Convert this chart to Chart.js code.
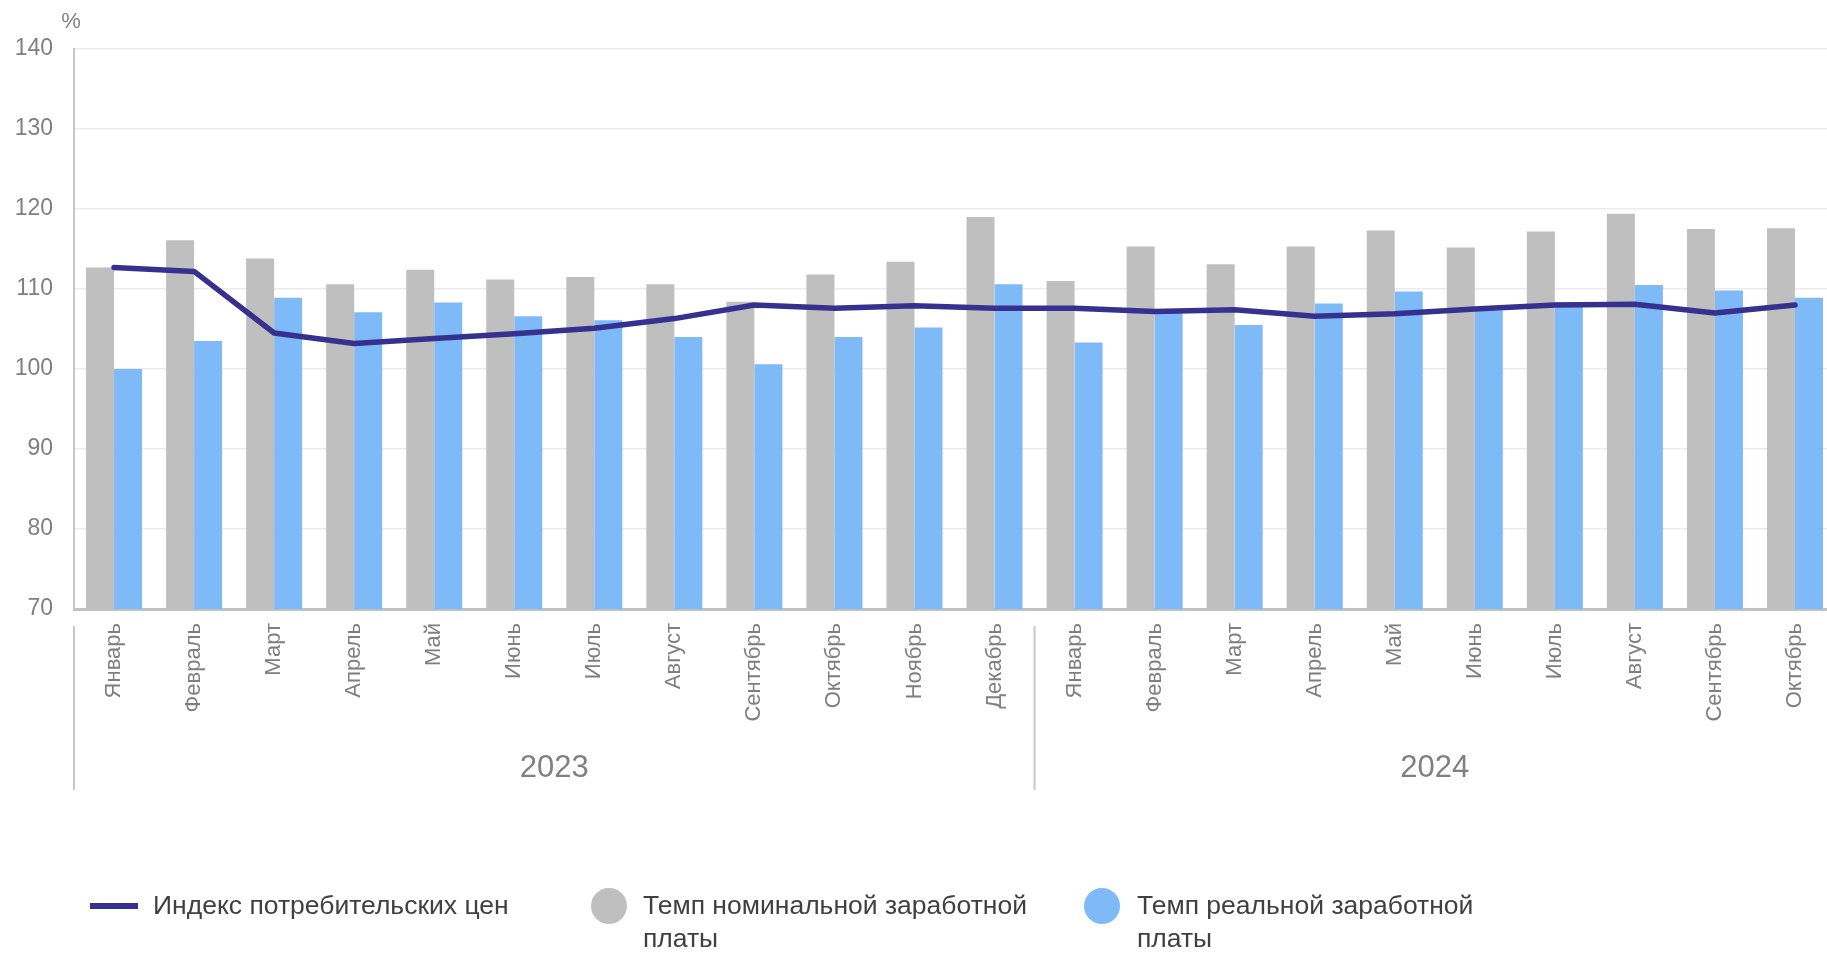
<!DOCTYPE html>
<html>
<head>
<meta charset="utf-8">
<script src="https://cdn.jsdelivr.net/npm/chart.js@4"></script>
<style>
  html, body { margin: 0; padding: 0; background: #fff; overflow: hidden; }
  #wrap { position: relative; width: 1840px; height: 953px; }
  #legend { position: absolute; left: 0; top: 0; width: 1827px; height: 953px; pointer-events: none;
            font-family: "Liberation Sans", Arial, sans-serif; font-size: 26.5px; color: #404040; }
  .lg-line { position: absolute; left: 90px; top: 903px; width: 48px; height: 6px; background: #36318f; }
  .lg-dot { position: absolute; width: 36px; height: 36px; border-radius: 50%; top: 888px; }
  .lg-text { position: absolute; top: 889px; line-height: 33px; white-space: nowrap; }
</style>
</head>
<body>
<div id="wrap">
  <canvas id="c" width="1840" height="953"></canvas>
  <div id="legend"></div>
</div>
<script>
const months = ['Январь','Февраль','Март','Апрель','Май','Июнь','Июль','Август','Сентябрь','Октябрь','Ноябрь','Декабрь',
                'Январь','Февраль','Март','Апрель','Май','Июнь','Июль','Август','Сентябрь','Октябрь'];
const years = ['2023', '2024'];
const yearCounts = [12, 10];
const nominalWage = [112.7,116.1,113.8,110.6,112.4,111.2,111.5,110.6,108.4,111.8,113.4,119.0,
                     111.0,115.3,113.1,115.3,117.3,115.2,117.2,119.4,117.5,117.6];
const realWage = [100.0,103.5,108.9,107.1,108.3,106.6,106.1,104.0,100.6,104.0,105.2,110.6,
                  103.3,107.2,105.5,108.2,109.7,107.3,108.3,110.5,109.8,108.9];
const cpi = [112.7,112.2,104.5,103.2,103.8,104.4,105.1,106.3,108.0,107.6,107.9,107.6,
             107.6,107.2,107.4,106.6,106.9,107.5,108.0,108.1,107.0,108.0];
const yTicks = [70, 80, 90, 100, 110, 120, 130, 140];
const seriesNames = ['Индекс потребительских цен', 'Темп номинальной заработной платы', 'Темп реальной заработной платы'];
const colors = { cpi: '#36318f', nominal: '#bfbfbf', real: '#7fbaf8' };

const FONT = '"Liberation Sans", Arial, sans-serif';

const groupPlugin = {
  id: 'groups',
  afterDraw(chart) {
    const ctx = chart.ctx;
    const x = chart.scales.x;
    const area = chart.chartArea;
    const step = x.getPixelForValue(1) - x.getPixelForValue(0);
    ctx.save();
    ctx.fillStyle = '#7f7f7f';
    ctx.font = '22px ' + FONT;
    ctx.textAlign = 'center';
    ctx.textBaseline = 'middle';
    ctx.fillText('%', area.left - 3, 22);
    let start = 0;
    ctx.strokeStyle = '#c8c8c8';
    ctx.lineWidth = 2;
    years.forEach((yr, i) => {
      const end = start + yearCounts[i] - 1;
      const left = x.getPixelForValue(start) - step / 2;
      const right = x.getPixelForValue(end) + step / 2;
      ctx.beginPath();
      ctx.moveTo(left, 626);
      ctx.lineTo(left, 790);
      ctx.stroke();
      ctx.fillStyle = '#808080';
      ctx.font = '31px ' + FONT;
      ctx.fillText(yr, (left + right) / 2, 768);
      start = end + 1;
    });
    ctx.restore();
  }
};

new Chart(document.getElementById('c'), {
  type: 'bar',
  data: {
    labels: months,
    datasets: [
      { type: 'line', label: seriesNames[0], data: cpi, borderColor: colors.cpi, backgroundColor: colors.cpi,
        borderWidth: 5.5, pointRadius: 0, tension: 0, borderCapStyle: 'round', borderJoinStyle: 'round', order: 0 },
      { label: seriesNames[1], data: nominalWage, backgroundColor: colors.nominal, order: 1,
        barPercentage: 1, categoryPercentage: 0.7 },
      { label: seriesNames[2], data: realWage, backgroundColor: colors.real, order: 1,
        barPercentage: 1, categoryPercentage: 0.7 }
    ]
  },
  options: {
    responsive: false,
    animation: false,
    devicePixelRatio: 1,
    layout: { padding: { top: 49, right: 5, left: 0, bottom: 0 } },
    plugins: { legend: { display: false }, tooltip: { enabled: false } },
    scales: {
      x: {
        grid: { display: false, drawTicks: false },
        border: { display: true, color: '#c0c0c0', width: 3 },
        ticks: { color: '#7f7f7f', font: { family: FONT, size: 22 }, minRotation: 90, maxRotation: 90,
                 padding: 14, autoSkip: false },
        afterFit(scale) { scale.height = 953 - 609; }
      },
      y: {
        min: 70, max: 140,
        afterBuildTicks(scale) { scale.ticks = yTicks.map(v => ({ value: v })); },
        grid: { color: '#ebebeb', lineWidth: 1.5, drawTicks: false },
        border: { display: true, color: '#c8c8c8', width: 2 },
        ticks: { color: '#7f7f7f', font: { family: FONT, size: 23 }, padding: 21 },
        afterFit(scale) { scale.width = 74; }
      }
    }
  },
  plugins: [groupPlugin]
});

const lg = document.getElementById('legend');
lg.innerHTML =
  '<div class="lg-line"></div>' +
  '<div class="lg-text" style="left:153px">' + seriesNames[0] + '</div>' +
  '<div class="lg-dot" style="left:591px;background:' + colors.nominal + '"></div>' +
  '<div class="lg-text" style="left:643px">Темп номинальной заработной<br>платы</div>' +
  '<div class="lg-dot" style="left:1084px;background:' + colors.real + '"></div>' +
  '<div class="lg-text" style="left:1137px">Темп реальной заработной<br>платы</div>';
</script>
</body>
</html>
